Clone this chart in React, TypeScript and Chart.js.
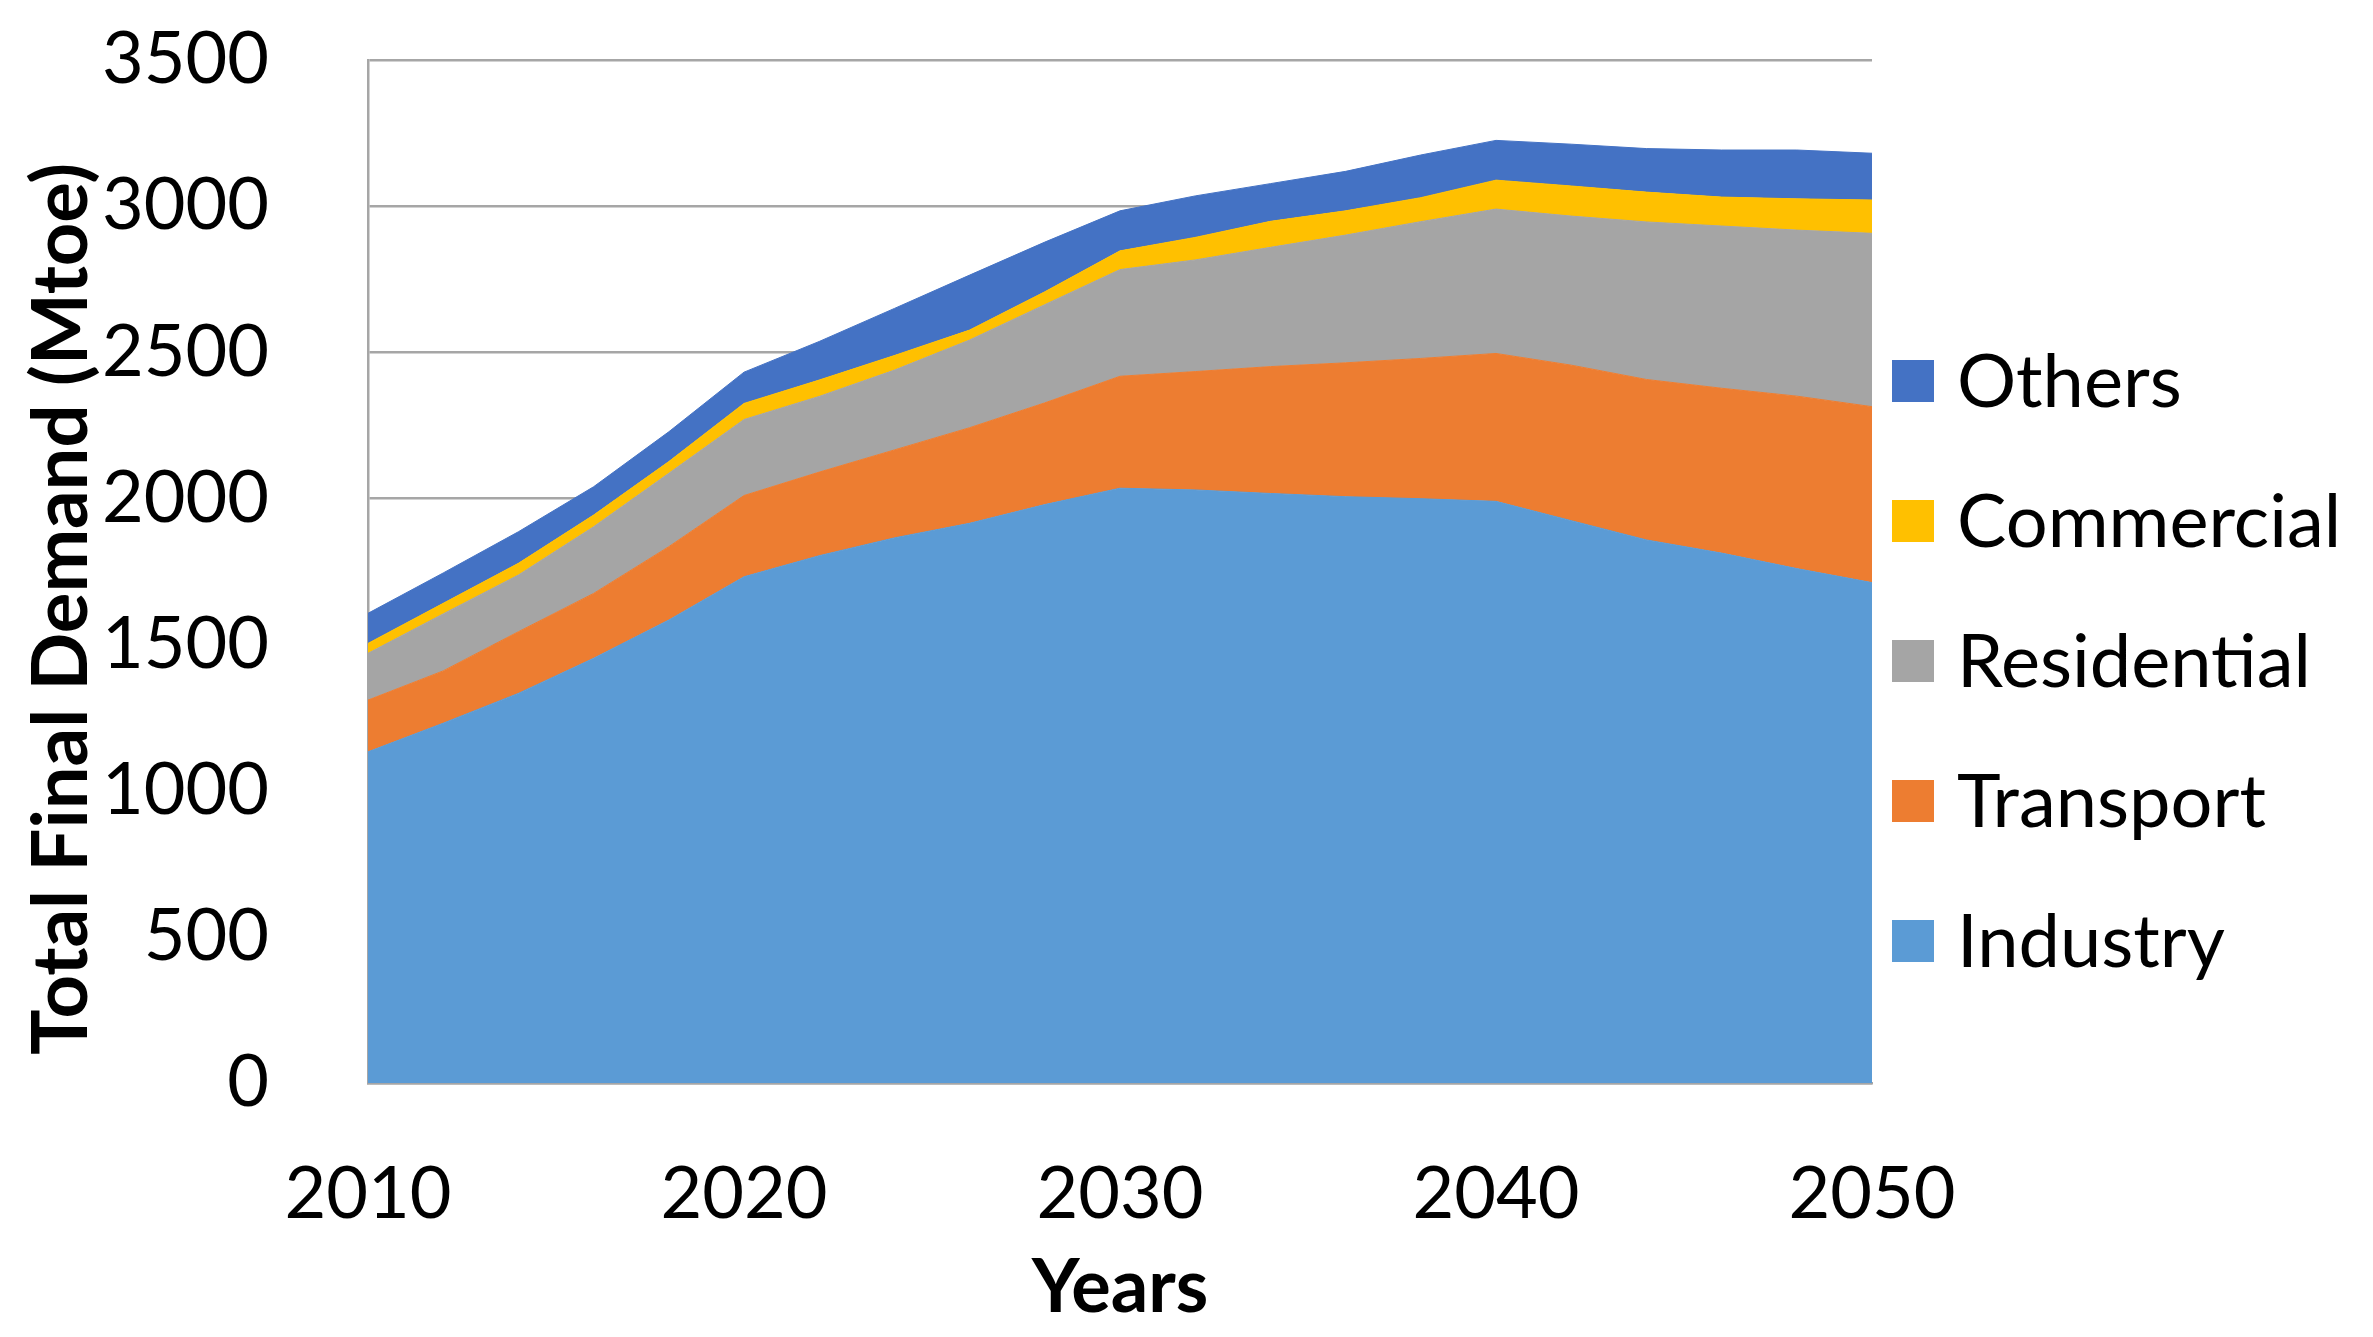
import { useEffect, useRef } from "react";
import { Chart, registerables } from "chart.js";
Chart.register(...registerables);

const years = [2010, 2012, 2014, 2016, 2018, 2020, 2022, 2024, 2026, 2028, 2030, 2032, 2034, 2036, 2038, 2040, 2042, 2044, 2046, 2048, 2050];
const industry = [1133, 1231, 1333, 1453, 1584, 1732, 1804, 1865, 1915, 1979, 2035, 2029, 2017, 2006, 1999, 1990, 1924, 1858, 1813, 1760, 1712];
const transport = [177, 179, 211, 222, 251, 278, 286, 301, 327, 348, 383, 405, 434, 458, 480, 506, 532, 549, 564, 590, 602];
const residential = [160, 195, 194, 228, 251, 260, 259, 273, 300, 336, 365, 382, 408, 437, 468, 494, 510, 539, 555, 568, 593];
const commercial = [34, 36, 40, 40, 40, 55, 56, 50, 34, 44, 64, 77, 89, 83, 82, 99, 103, 102, 99, 107, 114];
const others = [103, 104, 108, 97, 102, 107, 132, 161, 188, 170, 137, 142, 129, 135, 146, 136, 143, 149, 161, 167, 160];

const seriesNames = ["Industry", "Transport", "Residential", "Commercial", "Others"];
const seriesValues = [industry, transport, residential, commercial, others];
const seriesColors = ["#5B9BD5", "#ED7D31", "#A5A5A5", "#FFC000", "#4472C4"];
const xTickValues = [2010, 2020, 2030, 2040, 2050];
const yTitle = "Total Final Demand (Mtoe)";
const xTitle = "Years";

const FONT = "Lato";

const legendPlugin = {
  id: "sideLegend",
  afterDraw(chart: any) {
    const ctx = chart.ctx;
    const ds = chart.data.datasets;
    const x0 = 1892;
    const box = 42;
    const startY = 381;
    const gap = 140;
    ctx.save();
    ctx.font = `74px ${FONT}`;
    ctx.textBaseline = "middle";
    ctx.textAlign = "left";
    for (let k = 0; k < ds.length; k++) {
      const d = ds[ds.length - 1 - k];
      const cy = startY + k * gap;
      ctx.fillStyle = d.backgroundColor;
      ctx.fillRect(x0, cy - box / 2, box, box);
      ctx.fillStyle = "#000";
      ctx.fillText(d.label, 1957, cy + 2);
    }
    // vertical axis title
    ctx.translate(62, 609);
    ctx.rotate(-Math.PI / 2);
    ctx.font = `bold 76px ${FONT}`;
    ctx.textAlign = "center";
    ctx.textBaseline = "middle";
    ctx.fillStyle = "#000";
    ctx.fillText(yTitle, 0, 0);
    ctx.restore();
  },
};

export default function App() {
  const ref = useRef<HTMLCanvasElement | null>(null);
  useEffect(() => {
    document.body.style.margin = "0";
    const canvas = ref.current!;
    const chart = new Chart(canvas, {
      type: "line",
      data: {
        datasets: seriesNames.map((name, i) => ({
          label: name,
          data: years.map((yr, j) => ({ x: yr, y: seriesValues[i][j] })),
          backgroundColor: seriesColors[i],
          borderColor: seriesColors[i],
          borderWidth: 1,
          pointRadius: 0,
          tension: 0,
          fill: i === 0 ? "origin" : "-1",
        })),
      },
      options: {
        responsive: false,
        devicePixelRatio: 1,
        animation: false,
        layout: { padding: { left: 0, top: 60, right: 501, bottom: 0 } },
        plugins: { legend: { display: false }, tooltip: { enabled: false } },
        scales: {
          x: {
            type: "linear",
            min: 2010,
            max: 2050,
            afterBuildTicks: (s: any) => {
              s.ticks = xTickValues.map((v) => ({ value: v }));
            },
            ticks: {
              font: { family: FONT, size: 72 },
              color: "#000",
              padding: 69,
              maxRotation: 0,
              callback: (v: any) => String(v),
            },
            grid: { display: false, drawTicks: false },
            border: { display: true, color: "#a6a6a6", width: 2.5 },
            title: {
              display: true,
              text: xTitle,
              color: "#000",
              font: { family: FONT, size: 74, weight: "bold" },
              padding: { top: 0, bottom: 4 },
            },
            afterFit: (s: any) => {
              s.height = 254;
              s.paddingLeft = 0;
              s.paddingRight = 0;
            },
          },
          y: {
            stacked: true,
            min: 0,
            max: 3500,
            ticks: {
              stepSize: 500,
              font: { family: FONT, size: 72 },
              color: "#000",
              padding: 99,
              callback: (v: any) => String(v),
            },
            grid: { color: "#a6a6a6", lineWidth: 2.5, drawTicks: false },
            border: { display: true, color: "#a6a6a6", width: 2.5 },
            title: { display: false },
            afterFit: (s: any) => {
              s.width = 368;
              s.paddingTop = 0;
              s.paddingBottom = 0;
            },
          },
        },
      } as any,
      plugins: [legendPlugin],
    });
    return () => chart.destroy();
  }, []);
  return (
    <div style={{ width: 2373, height: 1337 }}>
      <canvas ref={ref} width={2373} height={1337} style={{ width: 2373, height: 1337, display: "block" }} />
    </div>
  );
}
